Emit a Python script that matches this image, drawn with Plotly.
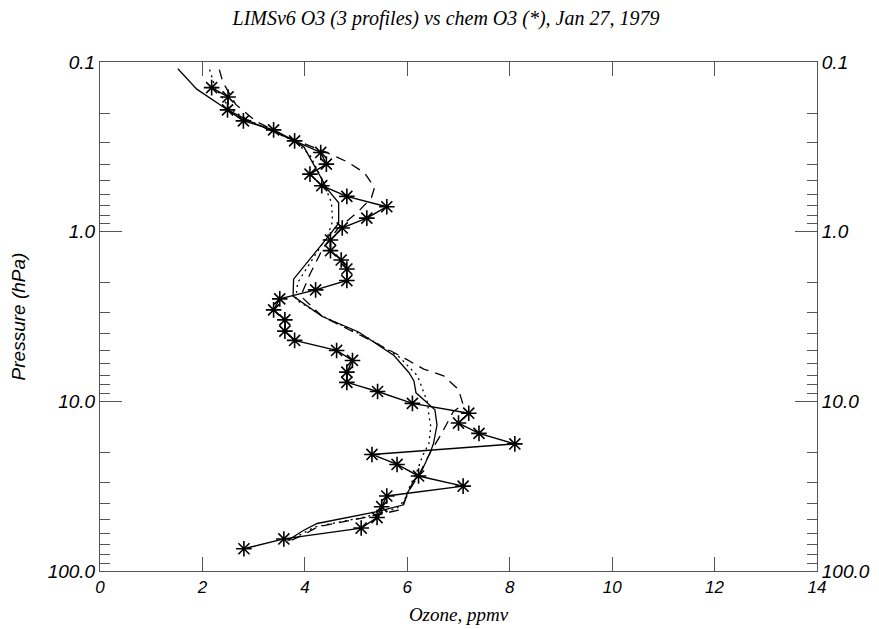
import numpy as np
import plotly.graph_objects as go

# ---------------- data ----------------
# chem O3 (asterisks): log10(pressure hPa) and ozone ppmv
chem_logp = [-0.849, -0.794, -0.718, -0.653, -0.600, -0.535, -0.467, -0.398, -0.339, -0.271,
             -0.208, -0.147, -0.080, -0.022, 0.049, 0.112, 0.167, 0.220, 0.288, 0.343,
             0.396, 0.461, 0.520, 0.586, 0.641, 0.700, 0.759, 0.828, 0.888, 0.942,
             1.012, 1.070, 1.128, 1.189, 1.251, 1.313, 1.372, 1.440, 1.500, 1.558,
             1.621, 1.685, 1.747, 1.811, 1.869]
chem_o3 = [2.18, 2.50, 2.49, 2.80, 3.39, 3.80, 4.31, 4.42, 4.10, 4.33,
           4.82, 5.60, 5.21, 4.73, 4.50, 4.50, 4.71, 4.82, 4.82, 4.21,
           3.51, 3.39, 3.61, 3.61, 3.80, 4.62, 4.93, 4.82, 4.82, 5.42,
           6.10, 7.20, 7.00, 7.40, 8.10, 5.31, 5.80, 6.22, 7.09, 5.60,
           5.50, 5.41, 5.10, 3.59, 2.81]

# LIMS profile 1 (solid)
lims1_logp = [-0.96, -0.84, -0.72, -0.65, -0.58, -0.535, -0.50, -0.39, -0.25, -0.17,
              -0.05, 0.02, 0.28, 0.38, 0.50, 0.59, 0.73, 0.83, 0.88, 0.95,
              1.01, 1.05, 1.14, 1.25, 1.30, 1.41, 1.47, 1.55, 1.61, 1.65,
              1.72, 1.76, 1.82]
lims1_o3 = [1.52, 1.89, 2.48, 2.93, 3.46, 3.80, 3.98, 4.18, 4.44, 4.66,
            4.66, 4.48, 3.78, 3.77, 4.34, 5.04, 5.74, 6.03, 6.13, 6.17,
            6.40, 6.54, 6.58, 6.51, 6.45, 6.28, 6.12, 5.99, 5.93, 5.41,
            4.24, 3.98, 3.66]

# LIMS profile 2 (dotted)
lims2_logp = [-0.955, -0.85, -0.72, -0.65, -0.58, -0.535, -0.45, -0.30, -0.17, -0.06,
              0.02, 0.30, 0.40, 0.50, 0.62, 0.74, 0.85, 0.93, 1.01, 1.08,
              1.15, 1.25, 1.32, 1.42, 1.50, 1.58, 1.63, 1.68, 1.74, 1.78, 1.83]
lims2_o3 = [2.14, 2.25, 2.55, 2.95, 3.45, 3.80, 4.10, 4.35, 4.52, 4.54,
            4.45, 3.86, 3.82, 4.36, 5.20, 5.85, 6.20, 6.30, 6.40, 6.42,
            6.46, 6.42, 6.30, 6.18, 6.05, 5.95, 5.80, 5.20, 4.20, 3.95, 3.62]

# LIMS profile 3 (dashed)
lims3_logp = [-0.955, -0.88, -0.75, -0.65, -0.58, -0.535, -0.47, -0.41, -0.345, -0.26,
              -0.20, -0.12, -0.02, 0.10, 0.25, 0.38, 0.50, 0.60, 0.65, 0.75,
              0.81, 0.85, 0.93, 1.02, 1.06, 1.20, 1.30, 1.42, 1.52, 1.58,
              1.64, 1.68, 1.74, 1.79, 1.83]
lims3_o3 = [2.33, 2.40, 2.65, 3.05, 3.50, 3.85, 4.40, 4.84, 5.17, 5.36,
            5.30, 5.05, 4.65, 4.35, 4.10, 3.92, 4.34, 5.02, 5.35, 5.97,
            6.32, 6.71, 7.00, 7.09, 6.90, 6.65, 6.45, 6.25, 6.05, 5.96,
            5.85, 5.25, 4.25, 3.95, 3.65]

x_ticks = [0, 2, 4, 6, 8, 10, 12, 14]
y_ticks = [0.1, 1.0, 10.0, 100.0]
y_ticktext = ["0.1", "1.0", "10.0", "100.0"]

title_text = "LIMSv6 O3 (3 profiles) vs chem O3 (*), Jan 27, 1979"
x_title = "Ozone, ppmv"
y_title = "Pressure (hPa)"

# ---------------- figure ----------------
def p(lp):
    return [10 ** v for v in lp]

fig = go.Figure()
# solid LIMS profile drawn on the (identical) right-hand axis so that axis is rendered
fig.add_trace(go.Scatter(x=lims1_o3, y=p(lims1_logp), mode="lines", yaxis="y2",
                         line=dict(color="black", width=1.3), showlegend=False))
fig.add_trace(go.Scatter(x=lims2_o3, y=p(lims2_logp), mode="lines",
                         line=dict(color="black", width=1.3, dash="2px,4px"), showlegend=False))
fig.add_trace(go.Scatter(x=lims3_o3, y=p(lims3_logp), mode="lines",
                         line=dict(color="black", width=1.3, dash="10px,7px"), showlegend=False))
fig.add_trace(go.Scatter(x=chem_o3, y=p(chem_logp), mode="lines+markers",
                         line=dict(color="black", width=1.4),
                         marker=dict(symbol="asterisk-open", size=13,
                                     line=dict(color="black", width=1.6)),
                         showlegend=False))

axis_col = "#555555"
ytickfont = dict(family="Liberation Sans", size=19, color="black", style="italic")
xtickfont = dict(family="Liberation Sans", size=17, color="black", style="italic")
yrange = [np.log10(100), np.log10(0.1)]

# the page body adds an 8px offset, so the layout is shifted up/left by 8px
fig.update_layout(
    width=879, height=629,
    margin=dict(l=92, r=70, t=54, b=66),
    paper_bgcolor="white", plot_bgcolor="white",
    title=dict(text=title_text, x=438 / 879, xanchor="center", xref="container",
               yref="container", y=1 - 10 / 629, yanchor="middle",
               font=dict(family="Liberation Serif", size=20, color="black", style="italic")),
    xaxis=dict(range=[0, 14], tickvals=x_ticks, ticktext=[str(v) for v in x_ticks],
               showgrid=False, zeroline=False, showline=True, linecolor=axis_col, linewidth=1,
               mirror="ticks", ticks="inside", ticklen=14, tickcolor=axis_col,
               tickfont=xtickfont, automargin=False, ticklabelstandoff=1,
               title=dict(text=x_title, standoff=11,
                          font=dict(family="Liberation Serif", size=19, color="black", style="italic"))),
    yaxis=dict(type="log", range=yrange, tickvals=y_ticks, ticktext=y_ticktext,
               showgrid=False, zeroline=False, showline=True, linecolor=axis_col, linewidth=1,
               ticks="inside", ticklen=22, tickcolor=axis_col, tickfont=ytickfont,
               automargin=False,
               minor=dict(ticks="inside", ticklen=10, tickcolor=axis_col, showgrid=False, dtick="D1"),
               title=dict(text=y_title, standoff=18,
                          font=dict(family="Liberation Sans", size=19, color="black", style="italic"))),
    yaxis2=dict(type="log", range=yrange, tickvals=y_ticks, ticktext=y_ticktext,
                overlaying="y", side="right", anchor="x",
                showgrid=False, zeroline=False, showline=True, linecolor=axis_col, linewidth=1,
                ticks="inside", ticklen=22, tickcolor=axis_col, tickfont=ytickfont,
                automargin=False,
                minor=dict(ticks="inside", ticklen=10, tickcolor=axis_col, showgrid=False, dtick="D1")),
)

fig.write_html("out.html")
